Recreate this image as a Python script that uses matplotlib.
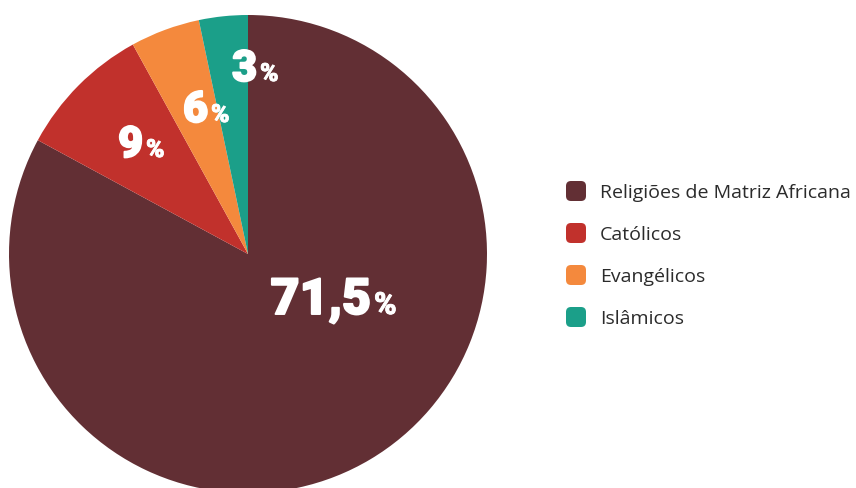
import matplotlib
matplotlib.use("Agg")
import matplotlib.pyplot as plt
from matplotlib.patches import FancyBboxPatch
import matplotlib.patheffects as pe

categories = ["Religiões de Matriz Africana", "Católicos", "Evangélicos", "Islâmicos"]
shares = [82.9, 9.1, 4.7, 3.3]          # angular share
labels = ["71,5", "9", "6", "3"]         # printed labels
colors = ["#622f34", "#c1312c", "#f4893d", "#1b9f89"]

W, H = 856, 489
fig = plt.figure(figsize=(W / 100, H / 100), dpi=100)
fig.patch.set_facecolor("white")

cx, cy, R = 248, 255, 239
ax = fig.add_axes([(cx - R) / W, (H - cy - R) / H, 2 * R / W, 2 * R / H])
ax.pie(shares, colors=colors, startangle=90, counterclock=False, radius=1,
       wedgeprops=dict(linewidth=0))
ax.set_xlim(-1, 1)
ax.set_ylim(-1, 1)
ax.set_aspect("equal")
ax.axis("off")

# label anchor (junction between number and %), baseline, pixel coords
label_pos = [(371, 315), (143, 158), (208, 123), (257, 82)]
num_size = [36, 31, 31, 31]
pct_size = [22, 18, 18, 18]
fam = ["Roboto", "DejaVu Sans"]
stroke_num = [pe.withStroke(linewidth=1.4, foreground="white")]
stroke_pct = [pe.withStroke(linewidth=0.6, foreground="white")]
for lab, (px, py), ns, ps in zip(labels, label_pos, num_size, pct_size):
    x = (px - cx) / R
    y = (cy - py) / R
    ax.text(x, y, lab, ha="right", va="baseline", color="white",
            fontsize=ns, fontweight="black", family=fam, path_effects=stroke_num)
    ax.text(x + 3 / R, y, "%", ha="left", va="baseline", color="white",
            fontsize=ps, fontweight="black", family=fam, path_effects=stroke_pct)

# legend
lax = fig.add_axes([0, 0, 1, 1])
lax.set_xlim(0, W)
lax.set_ylim(H, 0)
lax.axis("off")
ys = [192, 234, 276, 318]
for cat, col, yy in zip(categories, colors, ys):
    lax.add_patch(FancyBboxPatch((567, yy - 9), 18, 18,
                                 boxstyle="round,pad=1,rounding_size=5",
                                 facecolor=col, edgecolor="none"))
    lax.text(600, yy + 1, cat, ha="left", va="center", color="#2b2b2b",
             fontsize=14, family=["Open Sans", "DejaVu Sans"])

fig.savefig("out.png", dpi=100, facecolor="white")
